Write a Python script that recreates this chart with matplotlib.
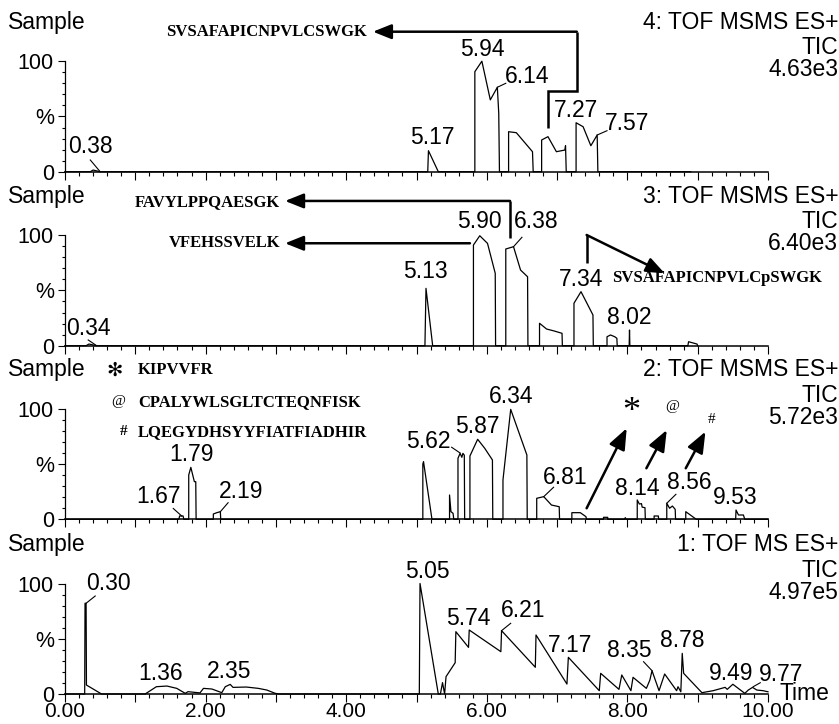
import matplotlib
matplotlib.use("Agg")
import matplotlib.pyplot as plt
from matplotlib.ticker import MultipleLocator, FuncFormatter

plt.rcParams['font.family'] = ['Liberation Sans', 'DejaVu Sans']

# ---- panel 4: TOF MSMS ES+, TIC 4.63e3
t4 = [0.00, 0.36, 0.40, 0.50,
      5.16, 5.17, 5.31,
      5.83, 5.83, 5.93, 6.05, 6.15, 6.17, 6.18,
      6.31, 6.31, 6.42, 6.65, 6.66,
      6.78, 6.78, 6.87, 6.99, 7.11, 7.12, 7.13,
      7.27, 7.27, 7.37, 7.48, 7.57, 7.58,
      8.90]
i4 = [0, 0, 1.5, 0,
      0, 19, 0,
      0, 90.5, 100, 65, 76.4, 52.8, 0,
      0, 36.2, 35.3, 18.1, 0,
      0, 28.7, 31.7, 18.1, 19.6, 23.5, 0,
      0, 44.3, 40.7, 23.5, 33.2, 0,
      0]

# ---- panel 3: TOF MSMS ES+, TIC 6.40e3
t3 = [0.00, 0.30, 0.34, 0.45,
      5.12, 5.135, 5.23,
      5.81, 5.81, 5.90, 6.01, 6.12, 6.125,
      6.27, 6.27, 6.38, 6.48, 6.58, 6.585,
      6.75, 6.75, 6.85, 6.96, 7.07, 7.075,
      7.24, 7.24, 7.34, 7.51, 7.515,
      7.71, 7.71, 7.76, 7.82, 7.85, 7.855,
      8.025, 8.03, 8.035,
      8.86, 8.87, 8.99, 9.00]
i3 = [0, 0, 1.5, 0,
      0, 51.9, 0,
      0, 91.1, 99.5, 92.6, 65.5, 0,
      0, 87.5, 89.6, 68.5, 62.4, 0,
      0, 20.3, 15.1, 13.3, 11.2, 0,
      0, 38.4, 48.9, 27.8, 0,
      0, 8.1, 9.7, 8.1, 6.7, 0,
      0, 14.2, 0,
      0, 3.6, 1.5, 0]

# ---- panel 2: TOF MSMS ES+, TIC 5.72e3
t2 = [0.00, 1.62, 1.63, 1.68, 1.69,
      1.76, 1.76, 1.79, 1.84, 1.86, 1.865,
      2.11, 2.11, 2.16, 2.21, 2.215,
      5.09, 5.09, 5.10, 5.22,
      5.47, 5.47, 5.49, 5.52, 5.53,
      5.59, 5.59, 5.62, 5.645, 5.66, 5.68, 5.685,
      5.76, 5.76, 5.87, 5.97, 6.08, 6.085,
      6.23, 6.23, 6.34, 6.57, 6.575,
      6.71, 6.71, 6.81, 6.92, 7.03, 7.035,
      7.21, 7.21, 7.33, 7.41, 7.42,
      7.66, 7.66, 7.72, 7.72,
      7.96, 7.97, 7.98,
      8.14, 8.14, 8.17, 8.20, 8.21, 8.25, 8.255,
      8.38, 8.38, 8.44, 8.445,
      8.56, 8.56, 8.60, 8.64, 8.68, 8.685,
      8.83, 8.83, 8.96, 8.98,
      9.54, 9.545, 9.58, 9.65, 9.67, 10.0]
i2 = [0, 0, 3, 3, 0,
      0, 40.1, 47, 34.1, 34, 0,
      0, 4.8, 6.0, 6.9, 0,
      0, 50, 52.1, 0,
      0, 22, 6.9, 5.4, 0,
      0, 55.2, 59.7, 56.1, 59.7, 58, 0,
      0, 57.3, 72.4, 64.3, 53.7, 0,
      0, 35.6, 99.5, 58.2, 0,
      0, 19.0, 20.5, 12.9, 11.4, 0,
      0, 6.0, 6.0, 2.4, 0,
      0, 1.8, 1.8, 0,
      0, 1.5, 0,
      0, 17.5, 13.8, 14.2, 11, 10.5, 0,
      0, 3.0, 3.0, 0,
      0, 14.5, 10.0, 12, 9.0, 0,
      0, 6.9, 0.9, 0,
      0, 8.4, 3.9, 3.9, 0, 0]

# ---- panel 1: TOF MS ES+, TIC 4.97e5
t1 = [0.00, 0.28, 0.285, 0.30, 0.305, 0.52,
      1.14, 1.30, 1.45, 1.59, 1.71, 1.75, 1.92, 1.97, 2.09, 2.23, 2.28, 2.35,
      2.39, 2.58, 2.75, 2.87, 2.99, 3.05,
      5.04, 5.05, 5.31, 5.34, 5.37, 5.40, 5.42, 5.55, 5.56, 5.74, 5.75, 6.20,
      6.21, 6.69, 6.70, 7.14, 7.16, 7.60, 7.62, 7.88, 7.92, 8.05, 8.08, 8.27,
      8.32, 8.35, 8.45, 8.53, 8.70, 8.72, 8.76, 8.78, 8.80, 9.06, 9.22, 9.39,
      9.42, 9.50, 9.67, 9.72, 9.78, 9.84, 9.93, 10.0]
i1 = [0, 0, 82.1, 82.1, 8.1, 0,
      0, 6.6, 7.2, 5.1, 0.6, 2.1, 1.0, 5.1, 4.5, 1.2, 6.6, 8.7,
      6.0, 6.3, 5.1, 3.6, 0.6, 0,
      0, 100, 0, 0, 10.3, 0, 15.7, 28.3, 56.4, 42.2, 57.9, 38.3,
      57.3, 24.2, 53.4, 9.0, 33.2, 3.0, 18.7, 4.2, 17.2, 3.0, 15.1, 5.1,
      12.7, 21.1, 3.0, 18.1, 3.0, 6.6, 2.0, 36.8, 18.7, 1.2, 3.0, 6.0,
      4.2, 8.8, 0.6, 3.6, 6.0, 3.6, 3.0, 2.0]

# peak labels (text, x, y) and leader lines
labels4 = [("0.38", 0.36, 22.4), ("5.17", 5.22, 30.5), ("5.94", 5.94, 110.8),
           ("6.14", 6.58, 86.0), ("7.27", 7.27, 55.8), ("7.57", 8.00, 43.8)]
leaders4 = [((0.36, 10.6), (0.50, 0)), ((6.15, 76.4), (6.27, 80)),
            ((7.57, 33.2), (7.71, 37.1))]
labels3 = [("0.34", 0.33, 15.7), ("5.13", 5.13, 67.0), ("5.90", 5.89, 112.2),
           ("6.38", 6.70, 112.2), ("7.34", 7.34, 60.1), ("8.02", 8.03, 25.7)]
leaders3 = [((0.33, 5.2), (0.45, 0)), ((6.38, 89.6), (6.50, 98.1))]
labels2 = [("1.67", 1.33, 20.5), ("1.79", 1.80, 58.2), ("2.19", 2.50, 25.0),
           ("5.62", 5.17, 70.2), ("5.87", 5.87, 83.8), ("6.34", 6.34, 111.0),
           ("6.81", 7.12, 38.0), ("8.14", 8.14, 28.0), ("8.56", 8.88, 33.1),
           ("9.53", 9.54, 19.9)]
leaders2 = [((1.54, 9.8), (1.66, 3.0)), ((2.21, 6.9), (2.32, 15)),
            ((5.50, 65.2), (5.62, 60)), ((6.81, 20.5), (6.95, 29)),
            ((8.56, 14.5), (8.69, 22.6))]
labels1 = [("0.30", 0.62, 100.2), ("1.36", 1.36, 18.7), ("2.35", 2.34, 20.2),
           ("5.05", 5.15, 110.7), ("5.74", 5.74, 68.5), ("6.21", 6.52, 76.0),
           ("7.17", 7.18, 44.3), ("8.35", 8.03, 39.2), ("8.78", 8.78, 48.2),
           ("9.49", 9.48, 18.7), ("9.77", 10.19, 17.2)]
leaders1 = [((0.30, 82.1), (0.43, 88.7)), ((6.21, 57.3), (6.34, 64)),
            ((8.23, 29.2), (8.35, 21.1)), ((9.79, 6.6), (9.89, 10.2))]

titles = ["4: TOF MSMS ES+", "3: TOF MSMS ES+", "2: TOF MSMS ES+", "1: TOF MS ES+"]
tic_values = ["4.63e3", "6.40e3", "5.72e3", "4.97e5"]

W, H = 839, 724
fig = plt.figure(figsize=(W / 100, H / 100), dpi=100)

baselines = [171.7, 345.7, 519.3, 694.0]   # pixel rows of the 0% lines
panels = [(t4, i4, labels4, leaders4), (t3, i3, labels3, leaders3),
          (t2, i2, labels2, leaders2), (t1, i1, labels1, leaders1)]

SANS = 16.5
serif = dict(family=['Liberation Serif', 'DejaVu Serif'], weight='bold', size=12)


def arrow(ax, pts, scale=14):
    xs = [p[0] for p in pts]
    ys = [p[1] for p in pts]
    if len(pts) > 2:
        ax.plot(xs[:-1], ys[:-1], color='black', lw=1.8, clip_on=False,
                solid_joinstyle='miter', solid_capstyle='butt')
    ax.annotate('', xy=pts[-1], xytext=pts[-2], annotation_clip=False,
                arrowprops=dict(arrowstyle='-|>,head_length=0.8,head_width=0.32',
                                lw=1.8, color='black', shrinkA=0, shrinkB=0,
                                mutation_scale=scale))


axes = []
for k, (t, inten, labs, leads) in enumerate(panels):
    y0 = baselines[k]
    ax = fig.add_axes([65 / W, (H - y0) / H, 703 / W, 110.5 / H])
    axes.append(ax)
    ax.plot(t, inten, color='black', lw=0.9, clip_on=False)
    ax.set_xlim(0, 10)
    ax.set_ylim(0, 100)
    for s in ['top', 'right']:
        ax.spines[s].set_visible(False)
    ax.spines['left'].set_bounds(0, 100)
    ax.spines['left'].set_linewidth(0.9)
    ax.spines['bottom'].set_linewidth(1.1)
    ax.set_yticks([0, 50, 100])
    ax.set_yticklabels(['0', '%', '100'])
    ax.yaxis.set_minor_locator(MultipleLocator(10))
    ax.xaxis.set_major_locator(MultipleLocator(1))
    ax.xaxis.set_minor_locator(MultipleLocator(0.2))
    ax.tick_params(axis='y', which='major', length=5, width=0.8, pad=3, labelsize=15.5)
    ax.tick_params(axis='y', which='minor', length=2.5, width=0.8)
    ax.tick_params(axis='x', which='major', length=5.8, width=0.8, pad=0.3, labelsize=15)
    ax.tick_params(axis='x', which='minor', length=2.6, width=0.8)
    if k < 3:
        ax.tick_params(axis='x', labelbottom=False)
    else:
        ax.xaxis.set_major_formatter(
            FuncFormatter(lambda v, p: f"{v:.2f}" if round(v) % 2 == 0 else ""))
        ax.text(10.17, 0, "Time", ha='left', va='center', fontsize=SANS,
                clip_on=False)

    for txt, x, y in labs:
        ax.text(x, y, txt, ha='center', va='center', fontsize=SANS, clip_on=False)
    for (xa, ya), (xb, yb) in leads:
        ax.plot([xa, xb], [ya, yb], color='black', lw=0.8, clip_on=False)

    ax.text(-0.81, 135.3, "Sample", ha='left', va='center', fontsize=SANS,
            clip_on=False)
    ax.text(11.0, 135.3, titles[k], ha='right', va='center', fontsize=SANS,
            clip_on=False)
    ax.text(11.0, 112.2, "TIC", ha='right', va='center', fontsize=SANS,
            clip_on=False)
    ax.text(11.0, 92.3, tic_values[k], ha='right', va='center', fontsize=SANS,
            clip_on=False)

ax4, ax3, ax2, ax1 = axes

# panel 4 annotation
ax4.text(4.30, 126.4, "SVSAFAPICNPVLCSWGK", ha='right', va='center',
         fontdict=serif, clip_on=False)
arrow(ax4, [(6.875, 39.3), (6.875, 73.3), (7.28, 73.3), (7.28, 126.7), (4.38, 126.7)])

# panel 3 annotations
ax3.text(3.06, 130.3, "FAVYLPPQAESGK", ha='right', va='center', fontdict=serif,
         clip_on=False)
arrow(ax3, [(6.33, 97.5), (6.33, 131.0), (3.13, 131.0)])
ax3.text(3.06, 92.7, "VFEHSSVELK", ha='right', va='center', fontdict=serif,
         clip_on=False)
arrow(ax3, [(5.76, 92.7), (3.13, 92.7)])
ax3.text(7.78, 61.0, "SVSAFAPICNPVLCpSWGK", ha='left', va='center',
         fontdict=serif, clip_on=False)
arrow(ax3, [(7.42, 74.6), (7.42, 100.2), (8.53, 65.5)])

# panel 2 annotations
ax2.text(0.71, 135.1, "\u273b", ha='center', va='center', fontsize=14,
         family=['DejaVu Sans'], clip_on=False)
ax2.text(0.75, 106.4, "@", ha='center', va='center', fontsize=11,
         family=['Liberation Serif'], clip_on=False)
ax2.text(0.83, 79.3, "#", ha='center', va='center', fontsize=11,
         family=['Liberation Serif'], weight='bold', clip_on=False)
ax2.text(1.04, 135.1, "KIPVVFR", ha='left', va='center', fontdict=serif, clip_on=False)
ax2.text(1.04, 106.4, "CPALYWLSGLTCTEQNFISK", ha='left', va='center',
         fontdict=serif, clip_on=False)
ax2.text(1.04, 79.3, "LQEGYDHSYYFIATFIADHIR", ha='left', va='center',
         fontdict=serif, clip_on=False)
arrow(ax2, [(7.42, 10.0), (7.99, 82.4)], scale=16)
arrow(ax2, [(8.27, 46.2), (8.56, 80.8)], scale=16)
arrow(ax2, [(8.83, 46.2), (9.11, 79.3)], scale=16)
ax2.text(8.06, 97.0, "*", ha='center', va='center', fontsize=26,
         family=['Liberation Serif'], clip_on=False)
ax2.text(8.63, 101.9, "@", ha='center', va='center', fontsize=11,
         family=['Liberation Serif'], clip_on=False)
ax2.text(9.20, 89.9, "#", ha='center', va='center', fontsize=11,
         family=['Liberation Serif'], clip_on=False)

fig.savefig("out.png", dpi=100)
